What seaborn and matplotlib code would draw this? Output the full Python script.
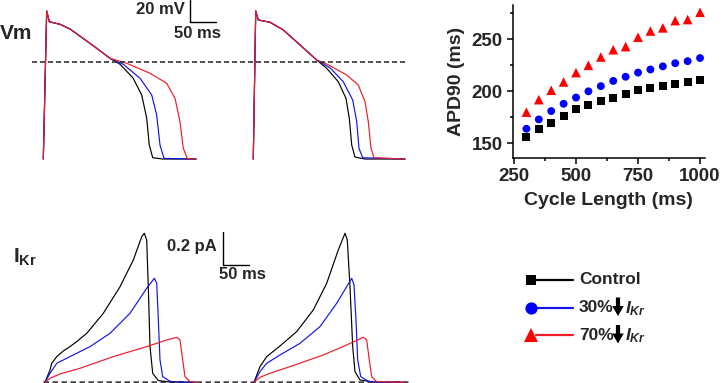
import pandas as pd
import seaborn as sns
import matplotlib.pyplot as plt
from matplotlib.ticker import MultipleLocator

sns.set_theme(style="white")
plt.rcParams["font.family"] = ["Liberation Sans", "DejaVu Sans"]
plt.rcParams["font.weight"] = "bold"
plt.rcParams["mathtext.fontset"] = "custom"
plt.rcParams["mathtext.rm"] = "Liberation Sans:bold"
plt.rcParams["mathtext.it"] = "Liberation Sans:italic:bold"
plt.rcParams["mathtext.bf"] = "Liberation Sans:bold"

groups = ["Control", "30%", "70%"]
trace_colors = {"Control": "#000000", "30%": "#1414e6", "70%": "#ee1c25"}
dot_colors = {"Control": "#000000", "30%": "#0000ff", "70%": "#ff0000"}

# APD90 restitution
cycle_length = [300, 350, 400, 450, 500, 550, 600, 650, 700, 750, 800, 850, 900, 950, 1000]
apd_control = [156, 164, 170, 176, 183, 187, 191, 194, 197, 201, 203, 205, 207, 209, 211]
apd_30 = [164, 173, 181, 188, 194, 200, 205, 210, 214, 218, 221, 224, 227, 229, 232]
apd_70 = [180, 192, 201, 209, 218, 225, 233, 240, 243, 252, 258, 261, 268, 269, 276]

# Vm traces (ms, mV), two beats; upstroke + early plateau shared by all
vm_head1_t = [0, 6.5, 11.5, 32.1, 51.3, 89.8, 128.3]
vm_head1_v = [-89.4, 47.0, 37.1, 34.7, 30.4, 17.2, 3.4]
vm_head2_t = [403.8, 408.5, 413.5, 436.0, 461.5, 493.7, 525.8]
vm_head2_v = [-89.4, 47.0, 38.7, 36.6, 29.5, 15.7, 1.8]

vm_ctl1_t = [147.5, 172.5, 189.2, 198.8, 203.8, 210.4, 230.2, 293.7]
vm_ctl1_v = [-2.1, -14.7, -30.4, -51.6, -76.5, -88.2, -89.4, -89.4]
vm_30_1_t = [153.8, 186.0, 208.5, 218.0, 224.4, 232.1, 293.7]
vm_30_1_v = [-2.1, -15.0, -30.4, -48.8, -76.5, -88.8, -89.4]
vm_70_1_t = [160.4, 205.2, 237.3, 253.3, 262.9, 269.2, 276.9, 293.7]
vm_70_1_v = [-1.2, -10.4, -19.6, -33.5, -55.0, -79.5, -88.8, -89.4]

vm_ctl2_t = [545.0, 567.3, 582.1, 588.5, 593.1, 599.4, 618.7, 695.6]
vm_ctl2_v = [-5.8, -18.2, -33.5, -51.9, -76.5, -87.6, -89.4, -89.4]
vm_30_2_t = [551.3, 576.9, 595.0, 602.7, 607.1, 614.2, 695.6]
vm_30_2_v = [-5.3, -18.2, -35.0, -55.0, -79.5, -88.2, -89.4]
vm_70_2_t = [546.2, 583.5, 605.8, 618.7, 625.0, 630.2, 636.0, 695.6]
vm_70_2_v = [-2.1, -12.0, -21.2, -36.6, -55.0, -79.5, -88.2, -89.4]

# IKr traces (ms, pA)
ikr_ctl1_t = [3.3, 12.9, 16.2, 25.8, 38.5, 51.3, 64.2, 83.5, 115.4, 147.5, 173.1, 189.2, 194.2, 198.8, 201.9, 205.2, 210.4, 221.2, 243.7, 293.7]
ikr_ctl1_i = [0, 0.074, 0.114, 0.154, 0.188, 0.214, 0.244, 0.294, 0.414, 0.573, 0.734, 0.873, 0.894, 0.854, 0.573, 0.214, 0.054, 0.010, 0.002, 0]
ikr_30_1_t = [3.3, 12.9, 25.8, 51.3, 89.8, 128.3, 166.7, 198.8, 213.5, 218.1, 221.2, 224.4, 229.6, 243.7, 269.2, 293.7]
ikr_30_1_i = [0, 0.054, 0.114, 0.154, 0.214, 0.294, 0.414, 0.564, 0.624, 0.594, 0.374, 0.134, 0.034, 0.006, 0, 0]
ikr_70_1_t = [3.3, 12.9, 32.1, 70.6, 134.6, 198.8, 237.3, 256.5, 262.9, 268.1, 272.5, 282.1, 295.0]
ikr_70_1_i = [0, 0.024, 0.050, 0.084, 0.154, 0.214, 0.254, 0.270, 0.254, 0.134, 0.034, 0.004, 0]

ikr_ctl2_t = [405.2, 416.7, 429.6, 455.2, 487.3, 519.2, 545.0, 567.3, 580.2, 584.6, 589.8, 595.0, 599.4, 609.0, 634.6, 695.6]
ikr_ctl2_i = [0, 0.094, 0.154, 0.218, 0.304, 0.434, 0.594, 0.794, 0.894, 0.854, 0.573, 0.214, 0.064, 0.014, 0.002, 0]
ikr_30_2_t = [405.2, 416.7, 429.6, 455.2, 493.7, 532.1, 564.2, 593.1, 597.5, 601.3, 604.6, 610.4, 625.0, 647.5, 695.6]
ikr_30_2_i = [0, 0.064, 0.114, 0.164, 0.234, 0.334, 0.474, 0.624, 0.584, 0.374, 0.134, 0.034, 0.006, 0, 0]
ikr_70_2_t = [405.2, 416.7, 435.9, 474.4, 538.5, 583.5, 615.4, 621.9, 626.9, 631.5, 641.2, 695.6]
ikr_70_2_i = [0, 0.030, 0.054, 0.094, 0.164, 0.224, 0.270, 0.254, 0.134, 0.034, 0.004, 0]


def trace_frame(pieces, ycol):
    rows = []
    for group, beat, t, y in pieces:
        rows.append(pd.DataFrame({"t": t, ycol: y, "group": group, "beat": beat}))
    return pd.concat(rows, ignore_index=True)


vm = trace_frame([
    ("Control", 1, vm_head1_t + vm_ctl1_t, vm_head1_v + vm_ctl1_v),
    ("30%", 1, vm_head1_t + vm_30_1_t, vm_head1_v + vm_30_1_v),
    ("70%", 1, vm_head1_t + vm_70_1_t, vm_head1_v + vm_70_1_v),
    ("Control", 2, vm_head2_t + vm_ctl2_t, vm_head2_v + vm_ctl2_v),
    ("30%", 2, vm_head2_t + vm_30_2_t, vm_head2_v + vm_30_2_v),
    ("70%", 2, vm_head2_t + vm_70_2_t, vm_head2_v + vm_70_2_v),
], "v")

ikr = trace_frame([
    ("Control", 1, ikr_ctl1_t, ikr_ctl1_i),
    ("30%", 1, ikr_30_1_t, ikr_30_1_i),
    ("70%", 1, ikr_70_1_t, ikr_70_1_i),
    ("Control", 2, ikr_ctl2_t, ikr_ctl2_i),
    ("30%", 2, ikr_30_2_t, ikr_30_2_i),
    ("70%", 2, ikr_70_2_t, ikr_70_2_i),
], "i")

apd = pd.DataFrame({
    "cl": cycle_length * 3,
    "apd": apd_control + apd_30 + apd_70,
    "group": ["Control"] * 15 + ["30%"] * 15 + ["70%"] * 15,
})

W, H = 722, 383
fig = plt.figure(figsize=(W / 100, H / 100), dpi=100)


def px_axes(x0, y0, x1, y1):
    return fig.add_axes([x0 / W, 1 - y1 / H, (x1 - x0) / W, (y1 - y0) / H])


# --- Vm panel ---
ax_vm = px_axes(30, 0, 410, 170)
sns.lineplot(data=vm, x="t", y="v", hue="group", hue_order=groups, palette=trace_colors,
             units="beat", estimator=None, sort=False, legend=False, lw=0.85, ax=ax_vm)
ax_vm.set_xlim(-25.6, 705.2)
ax_vm.set_ylim(-99.5, 57.1)
ax_vm.axhline(0, xmin=0.005, xmax=0.995, color="#333333", lw=1.2, ls=(0, (3, 1.8)))
ax_vm.plot([282, 282, 332], [57.1, 37.1, 37.1], color="black", lw=1.0, clip_on=False)
ax_vm.text(272, 48.4, "20 mV", ha="right", va="center", fontsize=12, fontweight="bold")
ax_vm.text(296, 25.8, "50 ms", ha="center", va="center", fontsize=12, fontweight="bold")
ax_vm.axis("off")

# --- IKr panel ---
ax_ikr = px_axes(30, 190, 410, 383)
sns.lineplot(data=ikr, x="t", y="i", hue="group", hue_order=groups, palette=trace_colors,
             units="beat", estimator=None, sort=False, legend=False, lw=0.85, ax=ax_ikr)
ax_ikr.set_xlim(-25.6, 705.2)
ax_ikr.set_ylim(-0.0042, 1.1536)
ax_ikr.axhline(0, xmin=0.034, xmax=0.995, color="#444444", lw=1.8, ls=(0, (2.2, 1.4)),
               clip_on=False, zorder=0)
ax_ikr.plot([346.2, 346.2, 396.2], [0.904, 0.704, 0.704], color="black", lw=1.0)
ax_ikr.text(334, 0.812, "0.2 pA", ha="right", va="center", fontsize=12, fontweight="bold")
ax_ikr.text(383, 0.644, "50 ms", ha="center", va="center", fontsize=12, fontweight="bold")
ax_ikr.axis("off")

fig.text(0, 1 - 33.5 / H, "Vm", ha="left", va="center", fontsize=15, fontweight="bold")
fig.text(13 / W, 1 - 257 / H, r"$\mathrm{I_{Kr}}$", ha="left", va="center", fontsize=15)

# --- APD90 vs cycle length ---
ax_apd = px_axes(512.7, 5, 705, 158.3)
sns.scatterplot(data=apd, x="cl", y="apd", hue="group", style="group", size="group",
                hue_order=groups, palette=dot_colors,
                markers={"Control": "s", "30%": "o", "70%": "^"},
                sizes={"Control": 33, "30%": 32, "70%": 48},
                linewidth=0, legend=False, ax=ax_apd)
ax_apd.set_xlim(244.8, 1020)
ax_apd.set_ylim(135.6, 283)
ax_apd.set_xticks([250, 500, 750, 1000])
ax_apd.set_yticks([150, 200, 250])
ax_apd.xaxis.set_minor_locator(MultipleLocator(125))
ax_apd.yaxis.set_minor_locator(MultipleLocator(25))
ax_apd.tick_params(which="both", direction="out", bottom=True, left=True, width=1.1,
                   color="black", labelsize=13.5, pad=3)
ax_apd.tick_params(which="major", length=4)
ax_apd.tick_params(which="minor", length=2.5)
for lab in ax_apd.get_xticklabels() + ax_apd.get_yticklabels():
    lab.set_fontweight("bold")
for side in ["top", "right"]:
    ax_apd.spines[side].set_visible(False)
for side in ["left", "bottom"]:
    ax_apd.spines[side].set_color("black")
    ax_apd.spines[side].set_linewidth(1.1)
ax_apd.set_xlabel("Cycle Length (ms)", fontsize=14, fontweight="bold", labelpad=5)
ax_apd.set_ylabel("APD90 (ms)", fontsize=14, fontweight="bold", labelpad=5)

# --- legend ---
ax_leg = fig.add_axes([0, 0, 1, 1])
ax_leg.set_xlim(0, W)
ax_leg.set_ylim(H, 0)
ax_leg.axis("off")
leg_rows = [("Control", "s", 7.2, "Control"),
            ("30%", "o", 8.8, "30%"),
            ("70%", "^", 9.5, "70%")]
for k, (g, m, ms, label) in enumerate(leg_rows):
    y = 280 + 27.5 * k
    ax_leg.plot([536, 573], [y, y], color=trace_colors[g], lw=1.6)
    ax_leg.plot([531], [y], marker=m, ms=ms, color=dot_colors[g], mew=0, ls="none")
    ax_leg.text(579, y, label, ha="left", va="center", fontsize=12.5, fontweight="bold")
    if k > 0:
        ax_leg.arrow(618, y - 10, 0, 18.5, width=4.2, head_width=11.5, head_length=10,
                     length_includes_head=True, color="black", lw=0)
        ax_leg.text(625, y + 1, "$I_{Kr}$", ha="left", va="center", fontsize=12.5)

fig.savefig("out.png", dpi=100)
